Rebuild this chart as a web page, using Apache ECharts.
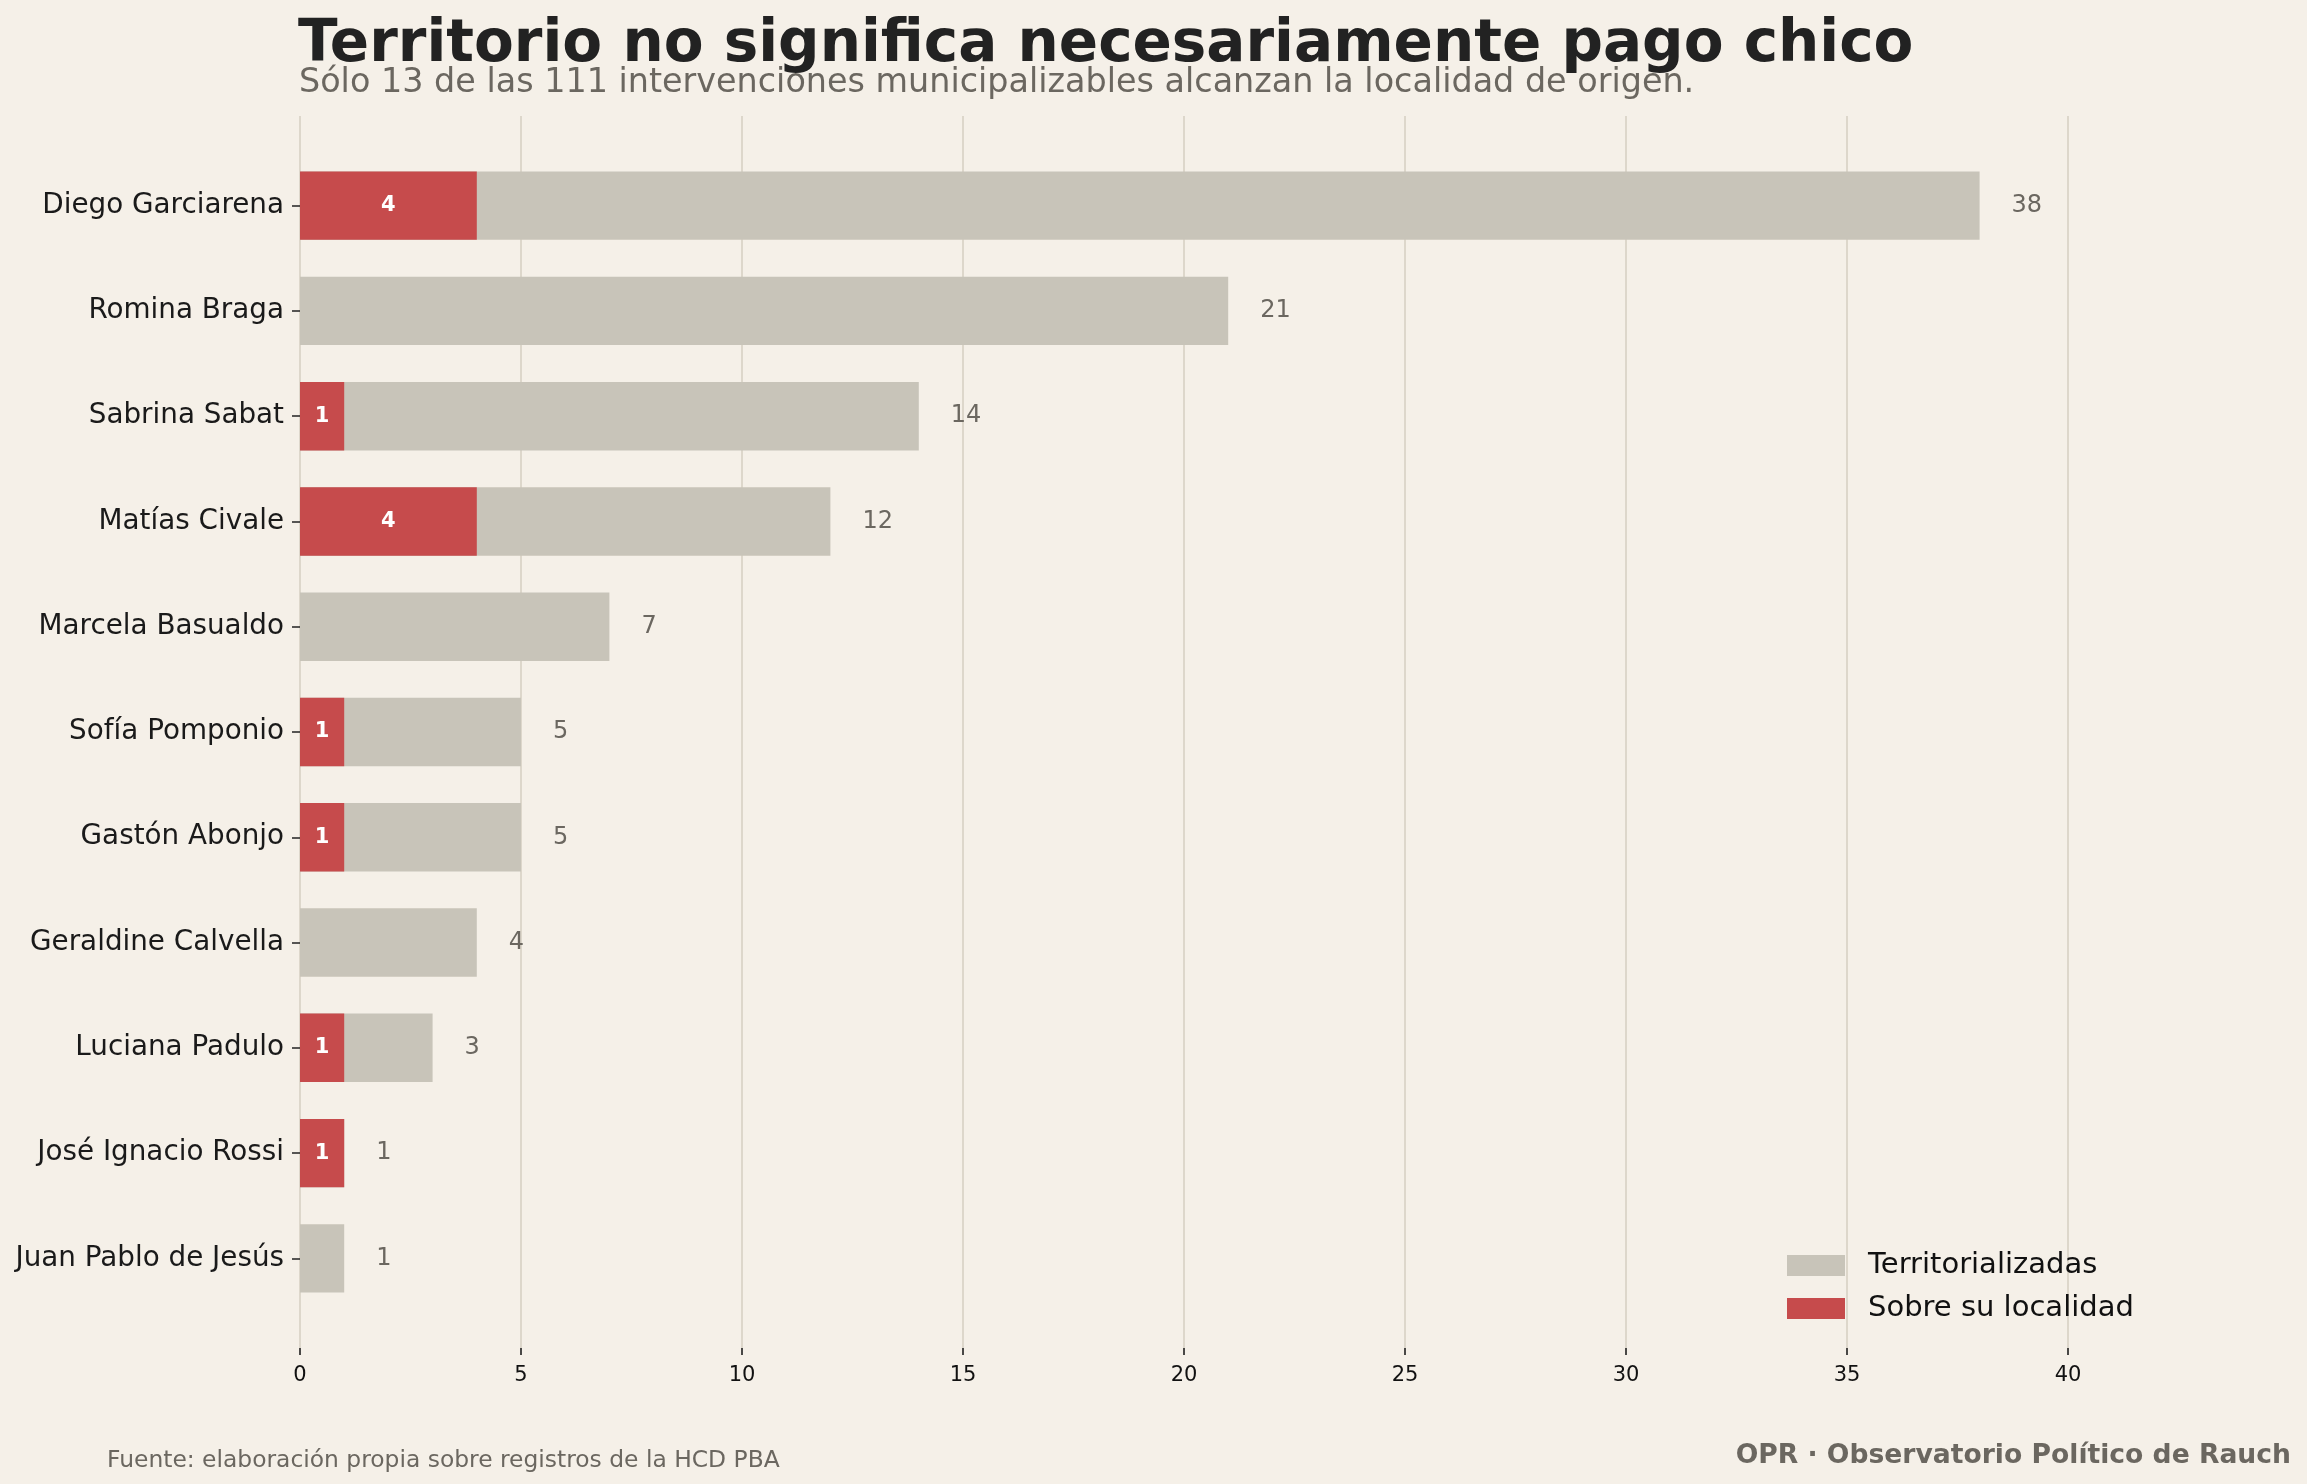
<!DOCTYPE html>
<html>
<head>
<meta charset="utf-8">
<script src="https://cdn.jsdelivr.net/npm/echarts@6/dist/echarts.min.js"></script>
<style>
  html, body { margin: 0; padding: 0; background: #f5f0e8; }
  #main { width: 2307px; height: 1484px; }
</style>
</head>
<body>
<div id="main"></div>
<script>
// datos
var nombres = ['Diego Garciarena', 'Romina Braga', 'Sabrina Sabat', 'Matías Civale', 'Marcela Basualdo',
  'Sofía Pomponio', 'Gastón Abonjo', 'Geraldine Calvella', 'Luciana Padulo', 'José Ignacio Rossi', 'Juan Pablo de Jesús'];
var territorializadas = [38, 21, 14, 12, 7, 5, 5, 4, 3, 1, 1];
var sobreLocalidad = [4, 0, 1, 4, 0, 1, 1, 0, 1, 1, 0];
var ticksX = [0, 5, 10, 15, 20, 25, 30, 35, 40];

var FONT = 'DejaVu Sans';
var GRIS_TXT = '#6b6760';

var myChart = echarts.init(document.getElementById('main'));
var option = {
  backgroundColor: '#f5f0e8',
  animation: false,
  textStyle: { fontFamily: FONT },
  title: [
    {
      text: 'Territorio no significa necesariamente pago chico',
      left: 298, top: 17, padding: 0,
      textStyle: { fontFamily: FONT, fontSize: 58, fontWeight: 'bold', color: '#222222' }
    },
    {
      text: 'Sólo 13 de las 111 intervenciones municipalizables alcanzan la localidad de origen.',
      left: 299, top: 67, padding: 0,
      textStyle: { fontFamily: FONT, fontSize: 33.4, fontWeight: 'normal', color: GRIS_TXT }
    },
    {
      text: 'Fuente: elaboración propia sobre registros de la HCD PBA',
      left: 107, top: 1449, padding: 0,
      textStyle: { fontFamily: FONT, fontSize: 23.4, fontWeight: 'normal', color: GRIS_TXT }
    },
    {
      text: 'OPR · Observatorio Político de Rauch',
      right: 16, top: 1443, padding: 0,
      textStyle: { fontFamily: FONT, fontSize: 26.6, fontWeight: 'bold', color: GRIS_TXT }
    }
  ],
  legend: {
    orient: 'vertical',
    left: 1787, top: 1251,
    padding: 0,
    itemWidth: 58, itemHeight: 21, itemGap: 14,
    icon: 'rect',
    textStyle: { fontFamily: FONT, fontSize: 29, color: '#111111', padding: [0, 0, 0, 18] },
    data: ['Territorializadas', 'Sobre su localidad']
  },
  grid: [
    { left: 300, width: 1768, top: 153, bottom: 173, containLabel: false },
    { left: 300, width: 1768, top: 116, bottom: 136, containLabel: false }
  ],
  xAxis: [
    { type: 'value', gridIndex: 0, min: 0, max: 40, show: false },
    {
      type: 'value', gridIndex: 1, min: 0, max: 40, interval: 5,
      axisLine: { show: false },
      axisTick: { show: true, length: 7, lineStyle: { color: '#111', width: 1.5 } },
      axisLabel: {
        margin: 17, fontSize: 21, color: '#111',
        formatter: function (v) { return ticksX.indexOf(v) >= 0 ? String(v) : ''; }
      },
      splitLine: { show: true, lineStyle: { color: '#ddd7cb', width: 2 } }
    }
  ],
  yAxis: [
    {
      type: 'category', gridIndex: 0, inverse: true, data: nombres,
      axisLine: { show: false },
      axisTick: { show: true, alignWithLabel: true, length: 8, lineStyle: { color: '#222', width: 1.5 } },
      axisLabel: { margin: 16, fontSize: 27.8, color: '#1a1a1a' }
    },
    { type: 'value', gridIndex: 1, min: 0, max: 1, show: false }
  ],
  series: [
    {
      name: 'Territorializadas',
      type: 'bar',
      xAxisIndex: 0, yAxisIndex: 0,
      barCategoryGap: '35%',
      barGap: '-100%',
      itemStyle: { color: '#c8c4b9' },
      label: {
        show: true, position: 'right', distance: 32,
        fontSize: 24, color: GRIS_TXT
      },
      data: territorializadas
    },
    {
      name: 'Sobre su localidad',
      type: 'bar',
      xAxisIndex: 0, yAxisIndex: 0,
      barCategoryGap: '35%',
      barGap: '-100%',
      itemStyle: { color: '#c64b4c' },
      label: {
        show: true, position: 'inside',
        fontSize: 21, fontWeight: 'bold', color: '#ffffff',
        formatter: function (p) { return p.value > 0 ? String(p.value) : ''; }
      },
      data: sobreLocalidad
    }
  ]
};
myChart.setOption(option);
</script>
</body>
</html>
